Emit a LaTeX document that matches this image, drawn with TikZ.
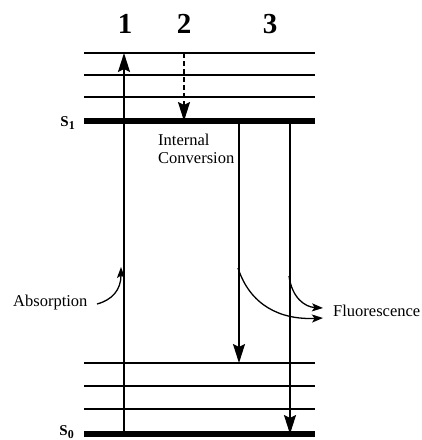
\documentclass[tikz,border=0pt]{standalone}
\usepackage{fontspec}
\setmainfont{Liberation Serif}
\usepackage{tikz}
\usetikzlibrary{arrows.meta}

\newcommand{\statelab}[1]{S\raisebox{-3.5pt}{\fontsize{12}{13}\selectfont #1}}

\begin{document}
\begin{tikzpicture}[
  x=1pt,y=-1pt,
  level/.style={line width=2pt},
  ground/.style={line width=6pt},
  trans/.style={line width=2pt,-{Stealth[length=19pt,width=12pt,inset=3pt]}},
  curv/.style={line width=1.3pt,-{Stealth[length=11pt,width=8pt,inset=2.5pt]}},
  num/.style={font=\fontsize{29}{32}\selectfont\bfseries,inner sep=0pt,anchor=base},
  state/.style={font=\fontsize{15}{17}\selectfont\bfseries,inner sep=0pt,anchor=base east},
  lab/.style={font=\fontsize{16.5}{18}\selectfont,inner sep=0pt}
]
\path[use as bounding box] (0,0) rectangle (422,440);

% vibrational levels of S1 and S0
\foreach \y in {53,75,97,363,386,409}
  \draw[level] (84,\y) -- (315,\y);
\draw[ground] (84,121) -- (315,121);
\draw[ground] (84,434) -- (315,434);

\node[state] (s1) at (75,126) {\statelab{1}};
\node[state] (s0) at (74,435) {\statelab{0}};

% processes
\node[num] (n1) at (125,33) {1};
\node[num] (n2) at (184,33) {2};
\node[num] (n3) at (270,33) {3};

\coordinate (absbot) at (124,434);
\coordinate (abstop) at (124,53);
\coordinate (icTop) at (184,53);
\coordinate (icBot) at (184,121);
\coordinate (flaTop) at (239,121);
\coordinate (flaBot) at (239,363);
\coordinate (flbTop) at (290,121);
\coordinate (flbBot) at (290,434);

\draw[trans] (absbot) -- (abstop);
\draw[trans,dash pattern=on 5pt off 3pt] (icTop) -- (icBot);
\draw[trans] (flaTop) -- (flaBot);
\draw[trans] (flbTop) -- (flbBot);

% labels
\node[lab,anchor=base west,align=left] (ic) at (158,163)
  {Internal\\Conversion};
\node[lab,anchor=base west] (absl) at (13,306) {Absorption};
\node[lab,anchor=base west] (fluo) at (333,316) {Fluorescence};

\coordinate (absend) at (121,267);
\coordinate (flaStart) at (238,268);
\coordinate (flbStart) at (289,276);
\coordinate (fluoA) at (323,318);
\coordinate (fluoB) at (323,308);

\draw[curv] (97,304) .. controls (112,300) and (121,290) .. (absend);
\draw[curv] (flaStart) .. controls (250,305) and (280,320) .. (fluoA);
\draw[curv] (flbStart) .. controls (292,298) and (305,307) .. (fluoB);
\end{tikzpicture}
\end{document}
